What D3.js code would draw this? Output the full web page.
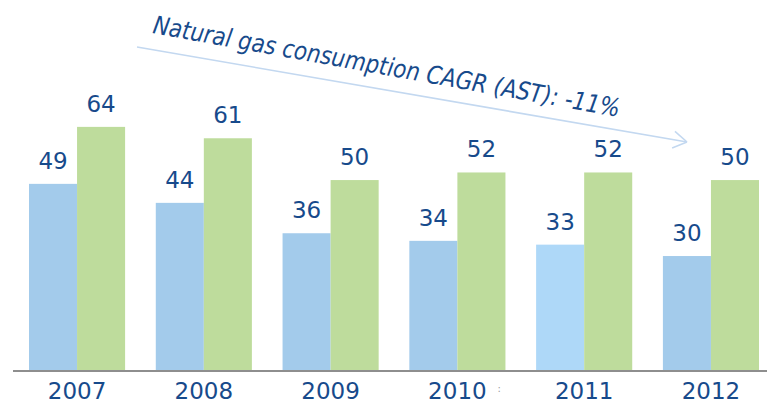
<!DOCTYPE html>
<html>
<head>
<meta charset="utf-8">
<script src="https://cdn.jsdelivr.net/npm/d3@7"></script>
<style>
  body { margin: 0; background: #fff; }
  text { font-family: "DejaVu Sans", sans-serif; }
</style>
</head>
<body>
<svg id="chart"></svg>
<script>
const years = ["2007", "2008", "2009", "2010", "2011", "2012"];
const seriesA = [49, 44, 36, 34, 33, 30];
const seriesB = [64, 61, 50, 52, 52, 50];
const seriesKeys = ["a", "b"];
const note = "Natural gas consumption CAGR (AST): -11%";

const width = 767, height = 403;
const baseY = 370;

const svg = d3.select("#chart")
    .attr("width", width)
    .attr("height", height);

const data = years.map((y, i) => ({ year: y, a: seriesA[i], b: seriesB[i] }));

const x = d3.scaleBand()
    .domain(years)
    .range([29, 759])
    .paddingInner(0.242)
    .paddingOuter(0);

const xSub = d3.scaleBand()
    .domain(seriesKeys)
    .range([0, x.bandwidth()]);

const y = d3.scaleLinear()
    .domain([0, 97.4])
    .range([baseY, 0]);

const textColor = "#174a8b";
const fillFor = (key, year) => {
    if (key === "b") return "#bedc9c";
    return year === "2011" ? "#aed8f8" : "#a3cbeb";
};

const groups = svg.selectAll(".grp")
    .data(data)
    .enter().append("g")
    .attr("class", "grp")
    .attr("transform", d => `translate(${x(d.year)},0)`);

groups.selectAll("rect")
    .data(d => seriesKeys.map(k => ({ key: k, year: d.year, value: d[k] })))
    .enter().append("rect")
    .attr("x", d => xSub(d.key))
    .attr("y", d => y(d.value))
    .attr("width", xSub.bandwidth())
    .attr("height", d => baseY - y(d.value))
    .attr("fill", d => fillFor(d.key, d.year));

groups.selectAll(".val")
    .data(d => seriesKeys.map(k => ({ key: k, value: d[k] })))
    .enter().append("text")
    .attr("class", "val")
    .attr("x", d => xSub(d.key) + xSub.bandwidth() / 2)
    .attr("y", d => y(d.value) - 15)
    .attr("text-anchor", "middle")
    .attr("fill", textColor)
    .style("font-size", "23px")
    .text(d => d.value);

// year labels under the groups
const xAxis = d3.axisBottom(x).tickSize(0).tickPadding(13);
const axisG = svg.append("g")
    .attr("transform", `translate(0,${baseY})`)
    .call(xAxis);
axisG.select(".domain").remove();
axisG.selectAll("text")
    .attr("fill", textColor)
    .style("font-size", "23px")
    .style("font-family", "DejaVu Sans, sans-serif");

svg.append("line")
    .attr("x1", 13).attr("x2", width)
    .attr("y1", baseY + 1).attr("y2", baseY + 1)
    .attr("stroke", "#8e8e8e")
    .attr("stroke-width", 2);

// stray mark next to 2010
svg.append("text")
    .attr("x", x("2010") + x.bandwidth() / 2 + 40)
    .attr("y", 392)
    .attr("fill", "#9a9a9a")
    .style("font-size", "10px")
    .text(":");

// trend arrow
const ax1 = 137, ay1 = 47, ax2 = 687, ay2 = 142;
const ang = Math.atan2(ay2 - ay1, ax2 - ax1);
svg.append("line")
    .attr("x1", ax1).attr("y1", ay1)
    .attr("x2", ax2).attr("y2", ay2)
    .attr("stroke", "#c3d8f0")
    .attr("stroke-width", 1.6);
[-1, 1].forEach(s => {
    const a = ang + Math.PI + s * 0.55;
    svg.append("line")
        .attr("x1", ax2).attr("y1", ay2)
        .attr("x2", ax2 + 16 * Math.cos(a)).attr("y2", ay2 + 16 * Math.sin(a))
        .attr("stroke", "#c3d8f0")
        .attr("stroke-width", 1.6);
});

svg.append("text")
    .attr("transform", "translate(152,33) rotate(10.2)")
    .attr("fill", textColor)
    .attr("textLength", 474)
    .attr("lengthAdjust", "spacingAndGlyphs")
    .style("font-family", "'Liberation Sans Narrow', 'DejaVu Sans Condensed', sans-serif")
    .style("font-style", "italic")
    .style("font-size", "25px")
    .text(note);
</script>
</body>
</html>
